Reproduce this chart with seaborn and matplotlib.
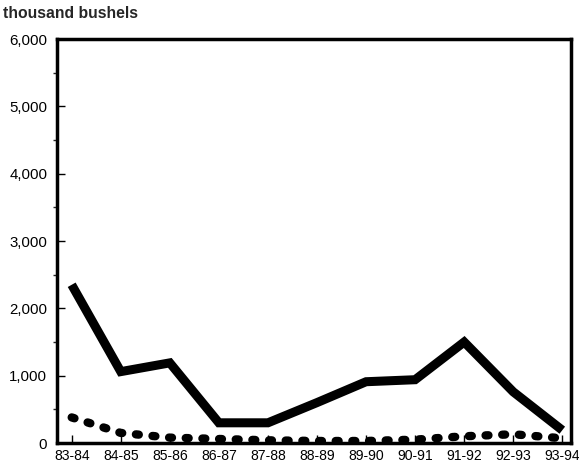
import matplotlib
matplotlib.use("Agg")
import matplotlib.pyplot as plt
import seaborn as sns
import pandas as pd
from matplotlib.ticker import MultipleLocator, FuncFormatter

seasons = ["83-84", "84-85", "85-86", "86-87", "87-88", "88-89",
           "89-90", "90-91", "91-92", "92-93", "93-94"]
solid_values = [2350, 1060, 1190, 300, 300, 600, 910, 940, 1500, 760, 190]
dashed_values = [380, 150, 80, 60, 40, 30, 30, 50, 100, 130, 70]

sns.set_style("ticks")
plt.rcParams['font.family'] = ['Liberation Sans', 'DejaVu Sans']

fig = plt.figure(figsize=(5.79, 4.74), dpi=100)
ax = fig.add_axes([0.0984, 0.0654, 0.888, 0.8523])

df = pd.DataFrame({"x": list(range(len(seasons))), "solid": solid_values, "dashed": dashed_values})

sns.lineplot(data=df, x="x", y="solid", ax=ax, color="black", linewidth=6.5,
             solid_joinstyle="miter", solid_capstyle="butt")
sns.lineplot(data=df, x="x", y="dashed", ax=ax, color="black", linewidth=6.0,
             linestyle=(0, (0.35, 1.65)), dash_capstyle="round")

ax.set_xlim(-0.3, 10.18)
ax.set_ylim(0, 6000)
ax.set_xticks(range(len(seasons)))
ax.set_xticklabels(seasons)
ax.yaxis.set_major_locator(MultipleLocator(1000))
ax.yaxis.set_minor_locator(MultipleLocator(500))
ax.yaxis.set_major_formatter(FuncFormatter(lambda v, p: f"{int(v):,}"))
ax.tick_params(axis="both", direction="in", color="black", labelcolor="black")
ax.tick_params(axis="y", which="major", length=6, width=1, pad=7, labelsize=10.8)
ax.tick_params(axis="y", which="minor", length=3, width=1)
ax.tick_params(axis="x", length=6, width=1, pad=4, labelsize=10.1)
ax.set_xlabel("")
ax.set_ylabel("")
for s in ax.spines.values():
    s.set_linewidth(2.5)
    s.set_color("black")
    s.set_visible(True)

fig.text(0.005, 0.972, "thousand bushels", fontsize=11.3, fontweight="bold", ha="left", va="center")

fig.savefig("out.png", dpi=100)
